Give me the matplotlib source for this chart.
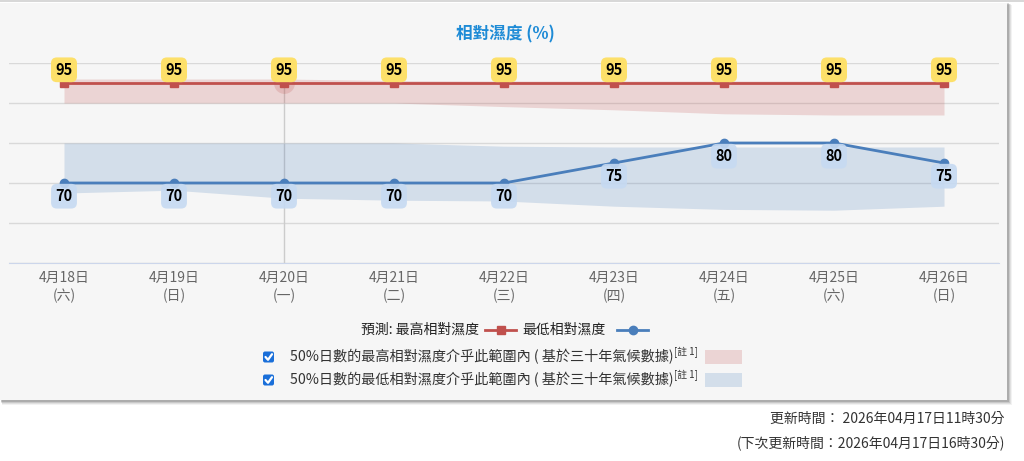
import numpy as np
import matplotlib
matplotlib.use("Agg")
import matplotlib.pyplot as plt
from matplotlib.patches import Rectangle, FancyBboxPatch

plt.rcParams['font.family'] = ['Noto Sans CJK TC', 'DejaVu Sans']

# data
dates = ['4月18日', '4月19日', '4月20日', '4月21日', '4月22日',
         '4月23日', '4月24日', '4月25日', '4月26日']
weekdays = ['六', '日', '一', '二', '三', '四', '五', '六', '日']
max_rh = [95, 95, 95, 95, 95, 95, 95, 95, 95]
min_rh = [70, 70, 70, 70, 70, 75, 80, 80, 75]
max_band_lo = [90, 90, 90, 90, 89.1, 88.3, 87.3, 87, 87]
max_band_hi = [96, 96, 96, 95.6, 95.5, 95.5, 95.5, 95.5, 95.5]
min_band_lo = [67.5, 68.2, 66.2, 65.7, 65.5, 64.2, 63.4, 63.2, 64.2]
min_band_hi = [80, 80, 80, 80, 79.2, 79, 79, 79, 79]
hover_idx = 2

red = '#c0504d'
blue = '#4a7ebb'
W, H = 1024, 461

fig = plt.figure(figsize=(W / 100, H / 100), dpi=100)
fig.patch.set_facecolor('white')

# background / decoration layer in pixel coords
bg = fig.add_axes([0, 0, 1, 1], zorder=0)
bg.set_xlim(0, W)
bg.set_ylim(H, 0)
bg.axis('off')

# panel shadow + panel
for i, a in enumerate([0.05, 0.07, 0.10, 0.14]):
    off = 4 - i
    bg.add_patch(Rectangle((0 + off * 0.5, 3 + off * 0.5), 1008 + off * 0.6, 398 + off * 0.6,
                           facecolor='black', alpha=a, lw=0))
bg.add_patch(Rectangle((0, 0), W, 2.5, facecolor='#d8d8d8', lw=0))
bg.add_patch(Rectangle((0, 3), 1007, 397, facecolor='#f6f6f6', lw=0))

# main chart
ax = fig.add_axes([9 / W, 1 - 263 / H, 990 / W, 200 / H], zorder=1)
ax.set_facecolor('none')
x = np.arange(len(dates))
ax.set_xlim(-0.5, len(dates) - 0.5)
ax.set_ylim(50, 100)
ax.set_yticks(np.arange(50, 101, 10))
ax.tick_params(axis='y', length=0, labelleft=False)
ax.grid(axis='y', color='#d9d9d9', lw=1)
ax.set_axisbelow(True)
for s in ['top', 'left', 'right']:
    ax.spines[s].set_visible(False)
ax.spines['bottom'].set_color('#ccd6eb')
ax.spines['bottom'].set_zorder(0.5)

ax.set_xticks(x)
ax.set_xticklabels([f'{d}\n({w})' for d, w in zip(dates, weekdays)],
                   color='#666666', fontsize=10, linespacing=1.3)
ax.tick_params(axis='x', length=0, pad=6)

# crosshair
ax.axvline(x[hover_idx], color='#cccccc', lw=1, zorder=1)

ax.fill_between(x, max_band_lo, max_band_hi, color=red, alpha=0.2, lw=0, zorder=2)
ax.fill_between(x, min_band_lo, min_band_hi, color=blue, alpha=0.2, lw=0, zorder=2)

ax.plot(x[hover_idx], max_rh[hover_idx], 'o', ms=15, color=red, alpha=0.2, mew=0, zorder=3)
ax.plot(x, max_rh, color=red, lw=2, marker='s', ms=6, zorder=4)
ax.plot(x, min_rh, color=blue, lw=2, marker='o', ms=6, zorder=4)

for xi, v in zip(x, max_rh):
    ax.annotate(f'{v}', (xi, v), xytext=(0, 9.5), textcoords='offset points',
                ha='center', va='center', fontsize=10.5, fontweight='bold', color='black',
                bbox=dict(boxstyle='round,pad=0.3,rounding_size=0.4',
                          fc='#fde06a', ec='none'), zorder=5)
for xi, v in zip(x, min_rh):
    ax.annotate(f'{v}', (xi, v), xytext=(0, -9.5), textcoords='offset points',
                ha='center', va='center', fontsize=10.5, fontweight='bold', color='black',
                bbox=dict(boxstyle='round,pad=0.3,rounding_size=0.4',
                          fc='#c6daf2', ec='none', alpha=0.9), zorder=5)

# title
bg.text(505, 34, '相對濕度 (%)', ha='center', va='center', fontsize=12,
        fontweight='bold', color='#1e8bd6')

# series legend
ly = 330
bg.text(479, ly, '預測: 最高相對濕度', ha='right', va='center', fontsize=10,
        fontweight='medium', color='#222222')
bg.plot([485, 516], [ly, ly], color=red, lw=2)
bg.plot([500.5], [ly], marker='s', ms=6, color=red)
bg.text(522, ly, '最低相對濕度', ha='left', va='center', fontsize=10,
        fontweight='medium', color='#222222')
bg.plot([617, 648], [ly, ly], color=blue, lw=2)
bg.plot([632.5], [ly], marker='o', ms=6, color=blue)

# climate band legend with checkboxes
fig.canvas.draw()
renderer = fig.canvas.get_renderer()
rows = [(357, '50%日數的最高相對濕度介乎此範圍內 ( 基於三十年氣候數據)', red),
        (380, '50%日數的最低相對濕度介乎此範圍內 ( 基於三十年氣候數據)', blue)]
for yy, label, col in rows:
    bg.add_patch(FancyBboxPatch((263, yy - 5.5), 11, 11,
                                boxstyle='round,pad=0,rounding_size=2',
                                fc='#1a6fd9', ec='none'))
    bg.plot([265.5, 268, 272], [yy, yy + 2.8, yy - 2.8], color='white', lw=1.6,
            solid_capstyle='round', solid_joinstyle='round')
    t = bg.text(290, yy, label, ha='left', va='center', fontsize=10.2, color='#333333')
    ext = t.get_window_extent(renderer)
    bg.text(ext.x1 + 1, yy - 5, '[註 1]', ha='left', va='center', fontsize=7,
            color='#333333')
    bg.add_patch(Rectangle((705, yy - 7), 37, 14, facecolor=col, alpha=0.2, lw=0))

# update time footer
bg.text(1005, 419, '更新時間： 2026年04月17日11時30分', ha='right', va='center',
        fontsize=10, color='#333333')
bg.text(1005, 443, '(下次更新時間：2026年04月17日16時30分)', ha='right', va='center',
        fontsize=10, color='#333333')

fig.savefig('out.png', dpi=100, facecolor='white')
